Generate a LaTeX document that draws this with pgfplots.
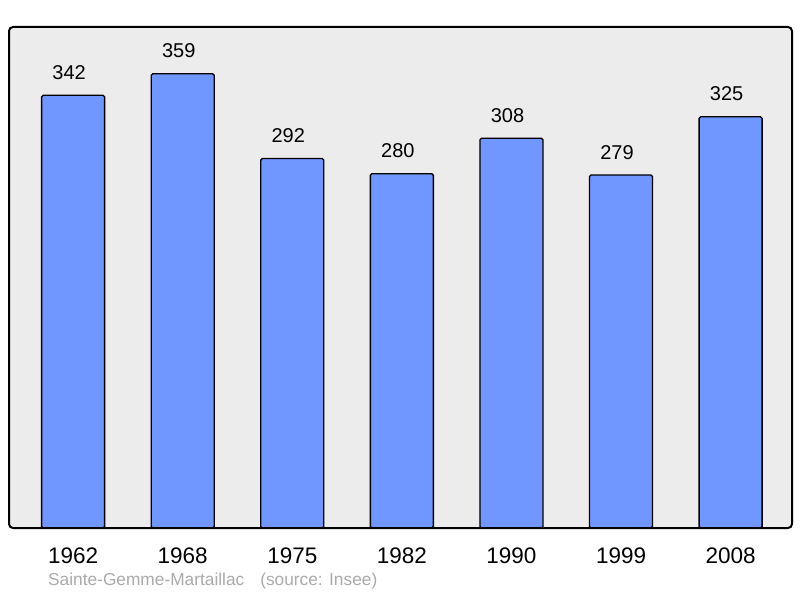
\documentclass[border=0pt]{standalone}
\usepackage{fontspec}
\setmainfont{Liberation Sans}
\usepackage{pgfplots}
\pgfplotsset{compat=1.18}
\definecolor{barblue}{HTML}{7096FF}
\definecolor{bgray}{HTML}{ECECEC}
\definecolor{foot}{HTML}{AAAAAA}
\begin{document}
\begin{tikzpicture}
\begin{axis}[
  scale only axis,
  width=783pt, height=501pt,
  xmin=-0.585, xmax=6.56,
  ymin=0, ymax=396,
  axis line style={draw=none},
  axis background/.style={fill=bgray},
  ytick=\empty,
  xtick={0,1,2,3,4,5,6},
  xticklabels={1962,1968,1975,1982,1990,1999,2008},
  major tick length=0pt,
  xticklabel style={inner sep=0pt, yshift=-20pt, font=\fontsize{22.5}{27}\selectfont},
  /pgf/number format/assume math mode=true,
  ybar, bar width=63pt,
  nodes near coords,
  every node near coord/.append style={inner sep=0pt, yshift=15pt, xshift=-4pt, font=\fontsize{20}{24}\selectfont, text=black},
  clip=false,
]
\addplot[fill=barblue, draw=black, line width=1.3pt, rounded corners=1.5pt] coordinates {
(0,342) (1,359) (2,292) (3,280) (4,308) (5,279) (6,325)};
\draw[line width=2pt, rounded corners=4pt] (rel axis cs:0,0) rectangle (rel axis cs:1,1);
\end{axis}
\node[anchor=base west, inner sep=0pt, text=foot, font=\fontsize{17.3}{20}\selectfont] at ([shift={(39pt,-57pt)}]current axis.south west) {Sainte-Gemme-Martaillac\hspace{16pt}(source: Insee)};
\path[use as bounding box] ([shift={(-9pt,-70pt)}]current axis.south west) rectangle ([shift={(8pt,27pt)}]current axis.north east);
\end{tikzpicture}
\end{document}
